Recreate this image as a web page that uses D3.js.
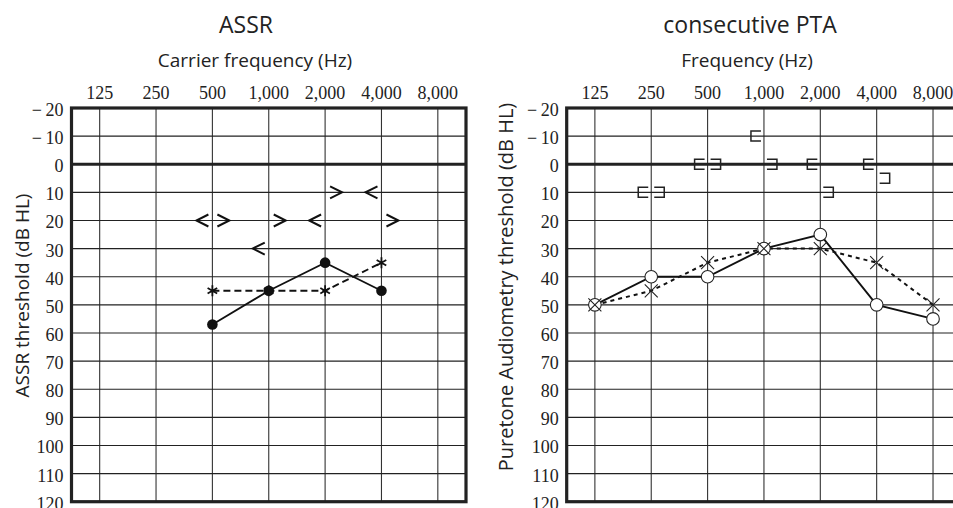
<!DOCTYPE html>
<html>
<head>
<meta charset="utf-8">
<script src="https://cdn.jsdelivr.net/npm/d3@7"></script>
<style>
  html, body { margin: 0; padding: 0; background: #fff; }
  svg { display: block; }
</style>
</head>
<body>
<svg id="chart" width="953" height="508"></svg>
<script>
// ---- data ----
const freqs = [125, 250, 500, 1000, 2000, 4000, 8000];
const freqLabels = ["125", "250", "500", "1,000", "2,000", "4,000", "8,000"];
const dbTicks = [-20, -10, 0, 10, 20, 30, 40, 50, 60, 70, 80, 90, 100, 110, 120];

// ASSR panel
const assrFreqs = [500, 1000, 2000, 4000];
const assrSolid = [57, 45, 35, 45];      // filled circles, solid line
const assrDashed = [45, 45, 45, 35];     // asterisks, dashed line
const assrRightMark = [20, 20, 10, 20];  // ">" markers
const assrLeftMark = [20, 30, 20, 10];   // "<" markers

// consecutive PTA panel
const ptaFreqs = [125, 250, 500, 1000, 2000, 4000, 8000];
const ptaCircle = [50, 40, 40, 30, 25, 50, 55]; // open circles, solid line
const ptaCross = [50, 45, 35, 30, 30, 35, 50];  // crosses, dotted line
const boneFreqs = [250, 500, 1000, 2000, 4000];
const boneLeft = [10, 0, -10, 0, 0];   // "[" markers
const boneRight = [10, 0, 0, 10, 5];   // "]" markers

// ---- drawing ----
const svg = d3.select("#chart");
const sans = "'Open Sans', 'DejaVu Sans', sans-serif";
const serif = "'Liberation Serif', 'DejaVu Serif', serif";

const plotTop = 108, plotBottom = 501.7, plotW = 394.5;
const y = d3.scaleLinear().domain([-20, 120]).range([plotTop, plotBottom]);
const fmt = d => d < 0 ? "\u2212\u2009" + Math.abs(d) : String(d);

function panel(left, cfg) {
  const x = d3.scaleLog().base(2)
    .domain([125 / Math.SQRT2, 8000 * Math.SQRT2])
    .range([left, left + plotW]);
  const g = svg.append("g");

  // grid
  g.selectAll("line.v").data(freqs).join("line")
    .attr("x1", d => x(d)).attr("x2", d => x(d))
    .attr("y1", plotTop).attr("y2", plotBottom)
    .attr("stroke", "#333").attr("stroke-width", 1.1);
  g.selectAll("line.h").data(dbTicks.filter(d => d !== -20 && d !== 120)).join("line")
    .attr("x1", left).attr("x2", left + plotW)
    .attr("y1", d => y(d)).attr("y2", d => y(d))
    .attr("stroke", "#222").attr("stroke-width", d => d === 0 ? 3 : 1.1);
  g.append("rect")
    .attr("x", left).attr("y", plotTop).attr("width", plotW).attr("height", plotBottom - plotTop)
    .attr("fill", "none").attr("stroke", "#222").attr("stroke-width", 3.2);

  // axis labels
  g.selectAll("text.xt").data(freqs).join("text")
    .attr("x", d => x(d)).attr("y", 98.5)
    .attr("text-anchor", "middle")
    .attr("font-family", serif).attr("font-size", 18).attr("fill", "#222")
    .text((d, i) => freqLabels[i]);
  g.selectAll("text.yt").data(dbTicks).join("text")
    .attr("x", left - 8).attr("y", d => y(d) + 8)
    .attr("text-anchor", "end")
    .attr("font-family", serif).attr("font-size", 18).attr("fill", "#222")
    .text(fmt);

  // titles
  g.append("text").attr("x", cfg.titleX).attr("y", 32.5)
    .attr("text-anchor", "middle").attr("font-family", sans).attr("font-size", 23).attr("fill", "#222")
    .text(cfg.title);
  g.append("text").attr("x", cfg.subX).attr("y", 66.7)
    .attr("text-anchor", "middle").attr("font-family", sans).attr("font-size", 19).attr("fill", "#222")
    .text(cfg.sub);
  g.append("text")
    .attr("transform", `translate(${cfg.ylabX},${cfg.ylabY}) rotate(-90)`)
    .attr("text-anchor", "middle").attr("font-family", sans).attr("font-size", cfg.ylabSize).attr("fill", "#222")
    .text(cfg.ylab);
  return { g, x };
}

// ---- ASSR panel ----
const A = panel(71.5, {
  title: "ASSR", titleX: 246, sub: "Carrier frequency (Hz)", subX: 255,
  ylab: "ASSR threshold (dB HL)", ylabX: 28.5, ylabY: 295.5, ylabSize: 19
});
{
  const { g, x } = A;
  const line = d3.line().x(d => x(d[0])).y(d => y(d[1]));
  g.append("path").datum(assrFreqs.map((f, i) => [f, assrSolid[i]]))
    .attr("d", line).attr("fill", "none").attr("stroke", "#111").attr("stroke-width", 1.8);
  g.append("path").datum(assrFreqs.map((f, i) => [f, assrDashed[i]]))
    .attr("d", line).attr("fill", "none").attr("stroke", "#111").attr("stroke-width", 1.9)
    .attr("stroke-dasharray", "7,4");
  g.selectAll("circle.f").data(assrFreqs).join("circle")
    .attr("cx", d => x(d)).attr("cy", (d, i) => y(assrSolid[i])).attr("r", 5.3).attr("fill", "#111");
  // asterisks
  const ast = "M0,-5.5L0,5.5M-4.8,-2.75L4.8,2.75M-4.8,2.75L4.8,-2.75";
  g.selectAll("path.ast").data(assrFreqs).join("path")
    .attr("transform", (d, i) => `translate(${x(d)},${y(assrDashed[i])})`)
    .attr("d", ast).attr("stroke", "#111").attr("stroke-width", 1.8).attr("fill", "none");
  // chevrons
  g.selectAll("path.gt").data(assrFreqs).join("path")
    .attr("transform", (d, i) => `translate(${x(d) + 11},${y(assrRightMark[i])})`)
    .attr("d", "M-6,-6L6,0L-6,6").attr("stroke", "#111").attr("stroke-width", 2).attr("fill", "none");
  g.selectAll("path.lt").data(assrFreqs).join("path")
    .attr("transform", (d, i) => `translate(${x(d) - 10},${y(assrLeftMark[i])})`)
    .attr("d", "M6,-6L-6,0L6,6").attr("stroke", "#111").attr("stroke-width", 2).attr("fill", "none");
}

// ---- consecutive PTA panel ----
const P = panel(566.7, {
  title: "consecutive PTA", titleX: 750, sub: "Frequency (Hz)", subX: 747,
  ylab: "Puretone Audiometry threshold (dB HL)", ylabX: 513, ylabY: 287, ylabSize: 20
});
{
  const { g, x } = P;
  const line = d3.line().x(d => x(d[0])).y(d => y(d[1]));
  g.append("path").datum(ptaFreqs.map((f, i) => [f, ptaCircle[i]]))
    .attr("d", line).attr("fill", "none").attr("stroke", "#111").attr("stroke-width", 1.9);
  g.append("path").datum(ptaFreqs.map((f, i) => [f, ptaCross[i]]))
    .attr("d", line).attr("fill", "none").attr("stroke", "#111").attr("stroke-width", 2)
    .attr("stroke-dasharray", "4,4");
  g.selectAll("circle.o").data(ptaFreqs).join("circle")
    .attr("cx", d => x(d)).attr("cy", (d, i) => y(ptaCircle[i])).attr("r", 6.3)
    .attr("fill", "#fff").attr("stroke", "#222").attr("stroke-width", 1.1);
  g.selectAll("path.x").data(ptaFreqs).join("path")
    .attr("transform", (d, i) => `translate(${x(d)},${y(ptaCross[i])})`)
    .attr("d", "M-6.5,-6.5L6.5,6.5M-6.5,6.5L6.5,-6.5")
    .attr("stroke", "#222").attr("stroke-width", 1.1).attr("fill", "none");
  // bone conduction brackets
  g.selectAll("path.lb").data(boneFreqs).join("path")
    .attr("transform", (d, i) => `translate(${x(d) - 8},${y(boneLeft[i])})`)
    .attr("d", "M5,-5L-5,-5L-5,5L5,5").attr("stroke", "#222").attr("stroke-width", 1.5).attr("fill", "none");
  g.selectAll("path.rb").data(boneFreqs).join("path")
    .attr("transform", (d, i) => `translate(${x(d) + 8},${y(boneRight[i])})`)
    .attr("d", "M-5,-5L5,-5L5,5L-5,5").attr("stroke", "#222").attr("stroke-width", 1.5).attr("fill", "none");
}
</script>
</body>
</html>
